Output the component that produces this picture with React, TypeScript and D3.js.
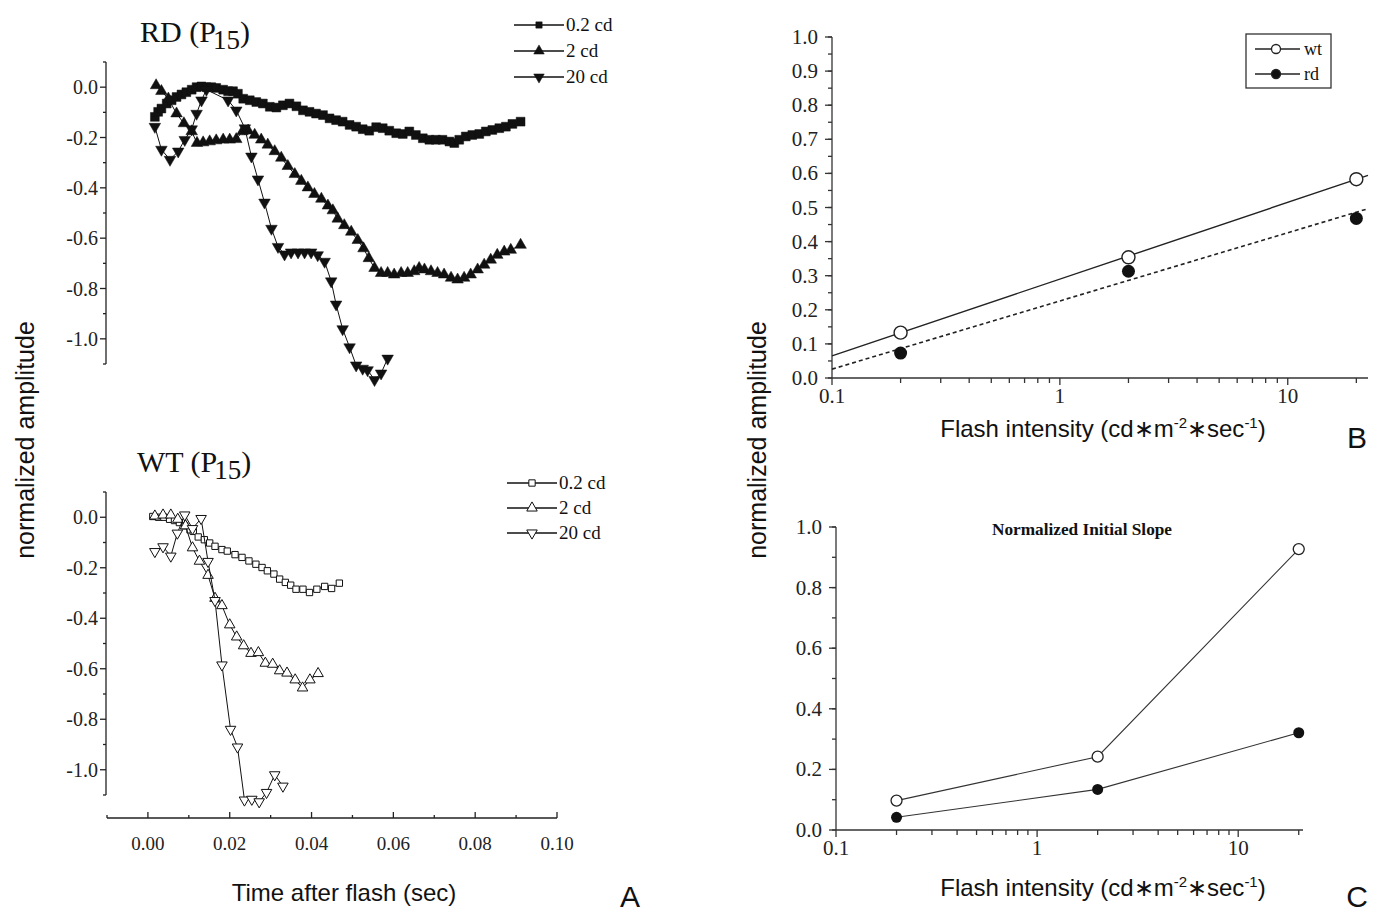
import React from "react";
import * as d3 from "d3";

// Panel A: [time after flash (sec), normalized amplitude]
const rd02: [number, number][] = [
  [0.0017, -0.118], [0.0025, -0.098], [0.0033, -0.085], [0.0046, -0.065], [0.0058, -0.052],
  [0.007, -0.039], [0.0082, -0.029], [0.0094, -0.02], [0.0107, -0.01], [0.0119, 0.0],
  [0.0131, 0.003], [0.0143, 0.0], [0.0155, 0.0], [0.0167, -0.003], [0.0184, -0.01],
  [0.0196, -0.016], [0.0208, -0.016], [0.022, -0.026], [0.0233, -0.046], [0.0249, -0.052],
  [0.0265, -0.059], [0.0281, -0.065], [0.0298, -0.078], [0.0314, -0.081], [0.033, -0.072],
  [0.0346, -0.065], [0.0363, -0.076], [0.0379, -0.092], [0.0395, -0.098], [0.0411, -0.105],
  [0.0428, -0.111], [0.0444, -0.124], [0.046, -0.131], [0.0476, -0.137], [0.0493, -0.15],
  [0.0509, -0.157], [0.0525, -0.167], [0.0541, -0.173], [0.0558, -0.159], [0.0574, -0.163],
  [0.059, -0.173], [0.0607, -0.183], [0.0623, -0.186], [0.0639, -0.176], [0.0655, -0.19],
  [0.0672, -0.203], [0.0688, -0.209], [0.0704, -0.209], [0.072, -0.209], [0.0737, -0.216],
  [0.0749, -0.222], [0.0761, -0.209], [0.0777, -0.196], [0.0793, -0.19], [0.081, -0.186],
  [0.0826, -0.176], [0.0842, -0.17], [0.0859, -0.163], [0.0875, -0.157], [0.0891, -0.146],
  [0.0911, -0.137],
];
const rd2: [number, number][] = [
  [0.002, 0.007], [0.0033, -0.016], [0.005, -0.046], [0.007, -0.105], [0.0088, -0.144],
  [0.0107, -0.176], [0.012, -0.222], [0.0135, -0.22], [0.0151, -0.216], [0.0167, -0.212],
  [0.0184, -0.209], [0.02, -0.209], [0.0216, -0.207], [0.0231, -0.176], [0.0245, -0.173],
  [0.0261, -0.19], [0.0277, -0.209], [0.0293, -0.229], [0.031, -0.255], [0.0326, -0.281],
  [0.0342, -0.314], [0.0359, -0.346], [0.0375, -0.373], [0.0391, -0.399], [0.0407, -0.425],
  [0.0424, -0.444], [0.044, -0.471], [0.0452, -0.49], [0.0464, -0.523], [0.048, -0.549],
  [0.0497, -0.575], [0.0513, -0.608], [0.0527, -0.641], [0.054, -0.68], [0.0554, -0.719],
  [0.057, -0.739], [0.0586, -0.739], [0.0602, -0.745], [0.0619, -0.739], [0.0635, -0.739],
  [0.0651, -0.732], [0.0663, -0.719], [0.0676, -0.725], [0.0692, -0.732], [0.0708, -0.739],
  [0.0724, -0.745], [0.0741, -0.758], [0.0757, -0.765], [0.0773, -0.758], [0.0789, -0.745],
  [0.0806, -0.725], [0.0822, -0.706], [0.0838, -0.686], [0.0854, -0.667], [0.0871, -0.654],
  [0.0887, -0.647], [0.0911, -0.627],
];
const rd20: [number, number][] = [
  [0.0017, -0.157], [0.0033, -0.248], [0.0054, -0.288], [0.0074, -0.255], [0.009, -0.209],
  [0.0107, -0.167], [0.0119, -0.105], [0.0131, -0.052], [0.0143, -0.01], [0.0196, -0.052],
  [0.0216, -0.092], [0.0237, -0.163], [0.0253, -0.275], [0.0269, -0.366], [0.0285, -0.458],
  [0.0302, -0.562], [0.0318, -0.634], [0.0334, -0.664], [0.035, -0.656], [0.0367, -0.656],
  [0.0383, -0.656], [0.0399, -0.656], [0.0415, -0.667], [0.0432, -0.693], [0.0448, -0.771],
  [0.046, -0.863], [0.0476, -0.961], [0.0493, -1.033], [0.0509, -1.105], [0.0525, -1.118],
  [0.0537, -1.124], [0.0554, -1.163], [0.057, -1.137], [0.0586, -1.078],
];
const wt02: [number, number][] = [
  [0.0012, 0.003], [0.0026, 0.0], [0.0039, 0.0], [0.0053, -0.008], [0.0065, -0.013],
  [0.0077, -0.021], [0.009, -0.034], [0.0103, -0.05], [0.0111, -0.056], [0.0123, -0.078],
  [0.0138, -0.089], [0.0151, -0.102], [0.0164, -0.115], [0.0181, -0.128], [0.0194, -0.134],
  [0.0213, -0.148], [0.023, -0.159], [0.0247, -0.173], [0.0264, -0.186], [0.0279, -0.199],
  [0.0292, -0.212], [0.0308, -0.225], [0.0322, -0.245], [0.0336, -0.258], [0.0349, -0.269],
  [0.0362, -0.285], [0.0379, -0.285], [0.0395, -0.298], [0.0413, -0.285], [0.0432, -0.274],
  [0.0449, -0.282], [0.0468, -0.261],
];
const wt2: [number, number][] = [
  [0.0017, 0.005], [0.0037, 0.009], [0.0056, 0.009], [0.0073, -0.008], [0.0092, -0.034],
  [0.0109, -0.121], [0.0126, -0.174], [0.0147, -0.23], [0.0164, -0.321], [0.0181, -0.35],
  [0.02, -0.426], [0.0217, -0.474], [0.0234, -0.509], [0.0252, -0.539], [0.027, -0.536],
  [0.0287, -0.578], [0.0305, -0.582], [0.0322, -0.608], [0.034, -0.617], [0.036, -0.644],
  [0.0378, -0.676], [0.0396, -0.644], [0.0416, -0.619],
];
const wt20: [number, number][] = [
  [0.0017, -0.136], [0.0037, -0.117], [0.0056, -0.154], [0.0072, -0.063], [0.009, 0.009],
  [0.0109, -0.045], [0.013, -0.005], [0.0147, -0.175], [0.0164, -0.33], [0.0181, -0.585],
  [0.0202, -0.84], [0.0219, -0.91], [0.0236, -1.12], [0.0254, -1.117], [0.0272, -1.127],
  [0.029, -1.09], [0.031, -1.02], [0.033, -1.065],
];
const cdLabels = ["0.2 cd", "2 cd", "20 cd"];
const timeTicks = [0, 0.02, 0.04, 0.06, 0.08, 0.1];
const timeLabels = ["0.00", "0.02", "0.04", "0.06", "0.08", "0.10"];
const ampTicksA = [0, -0.2, -0.4, -0.6, -0.8, -1.0];

// Panel B: amplitude vs flash intensity, with log-linear fits
const intensity = [0.2, 2, 20];
const ampWt = [0.133, 0.354, 0.583];
const ampRd = [0.073, 0.313, 0.468];
const fitWt = [0.29, 0.225]; // intercept, slope per decade
const fitRd = [0.226, 0.2];
const ampTicksB = [0, 0.1, 0.2, 0.3, 0.4, 0.5, 0.6, 0.7, 0.8, 0.9, 1.0];
const logTicks = [0.1, 1, 10];
const logLabels = ["0.1", "1", "10"];
const groups = ["wt", "rd"];

// Panel C: normalized initial slope
const slopeWt = [0.097, 0.242, 0.927];
const slopeRd = [0.042, 0.134, 0.321];
const slopeTicks = [0, 0.2, 0.4, 0.6, 0.8, 1.0];

const SERIF = "'Liberation Serif', 'Times New Roman', serif";
const SANS = "'Liberation Sans', Arial, sans-serif";

const xA = d3.scaleLinear().domain([-0.01, 0.1]).range([107, 557]);
const yRD = d3.scaleLinear().domain([-1.1, 0.1]).range([364, 62]);
const yWT = d3.scaleLinear().domain([-1.1, 0.1]).range([795, 492]);
const xB = d3.scaleLog().domain([0.1, 22.5]).range([832, 1368]);
const yB = d3.scaleLinear().domain([0, 1]).range([378, 37]);
const xC = d3.scaleLog().domain([0.1, 21]).range([836, 1303]);
const yC = d3.scaleLinear().domain([0, 1]).range([830, 527]);

const symSquare = (s: number) => d3.symbol().type(d3.symbolSquare).size(s)()!;
const symTri = (s: number) => d3.symbol().type(d3.symbolTriangle).size(s)()!;

function Mark({ x, y, kind, filled, big }: { x: number; y: number; kind: number; filled: boolean; big: boolean }) {
  const fill = filled ? "#111" : "#fff";
  const sw = filled ? 0.5 : 1;
  if (kind === 0) {
    return <path d={symSquare(big ? 78 : 40)} transform={`translate(${x},${y})`} fill={fill} stroke="#111" strokeWidth={sw} />;
  }
  const rot = kind === 2 ? " rotate(180)" : "";
  return <path d={symTri(big ? 58 : 48)} transform={`translate(${x},${y})${rot}`} fill={fill} stroke="#111" strokeWidth={sw} />;
}

function YAxisA({ y, x0 }: { y: d3.ScaleLinear<number, number>; x0: number }) {
  const all = y.ticks(12);
  const [lo, hi] = y.range();
  return (
    <g>
      <line x1={x0} x2={x0} y1={lo} y2={hi} stroke="#222" strokeWidth={1.3} />
      {all.map((v, i) => {
        const major = Math.abs(Math.round(v * 10)) % 2 === 0;
        return <line key={i} x1={x0 - (major ? 6 : 3)} x2={x0} y1={y(v)} y2={y(v)} stroke="#222" strokeWidth={1.3} />;
      })}
      {ampTicksA.map((v, i) => (
        <text key={i} x={x0 - 8} y={y(v) + 7} textAnchor="end" fontFamily={SERIF} fontSize={20} fill="#222">
          {v.toFixed(1)}
        </text>
      ))}
    </g>
  );
}

function Series({ data, y, kind, filled }: { data: [number, number][]; y: d3.ScaleLinear<number, number>; kind: number; filled: boolean }) {
  const line = d3.line<[number, number]>().x((d) => xA(d[0])).y((d) => y(d[1]));
  return (
    <g>
      <path d={line(data)!} fill="none" stroke="#111" strokeWidth={1} />
      {data.map((d, i) => (
        <Mark key={i} x={xA(d[0])} y={y(d[1])} kind={kind} filled={filled} big={filled} />
      ))}
    </g>
  );
}

function LegendA({ x, y, dy, filled }: { x: number; y: number; dy: number; filled: boolean }) {
  return (
    <g>
      {cdLabels.map((t, i) => (
        <g key={i}>
          <line x1={x} x2={x + 50} y1={y + i * dy} y2={y + i * dy} stroke="#111" strokeWidth={1.3} />
          <Mark x={x + 25} y={y + i * dy} kind={i} filled={filled} big={false} />
          <text x={x + 52} y={y + i * dy + 6} fontFamily={SERIF} fontSize={19} fill="#111">{t}</text>
        </g>
      ))}
    </g>
  );
}

function Title({ x, y, main }: { x: number; y: number; main: string }) {
  return (
    <text x={x} y={y} fontFamily={SERIF} fontSize={30} fill="#111">
      {main} (P<tspan dy={7} dx={-3} fontSize={27}>15</tspan><tspan dy={-7}>)</tspan>
    </text>
  );
}

function LogAxis({ x, y, yTicks, yMinor, yLabels }: {
  x: d3.ScaleLogarithmic<number, number>; y: d3.ScaleLinear<number, number>;
  yTicks: number[]; yMinor: number[]; yLabels: string[];
}) {
  const [x0, x1] = x.range();
  const y0 = y.range()[0];
  const y1 = y.range()[1];
  const xt = x.ticks().filter((v) => v <= x.domain()[1]);
  return (
    <g stroke="#333" strokeWidth={1.3}>
      <line x1={x0} x2={x1} y1={y0} y2={y0} />
      <line x1={x0} x2={x0} y1={y0} y2={y1} />
      {xt.map((v, i) => {
        const major = logTicks.some((m) => Math.abs(m - v) < 1e-9);
        return <line key={"x" + i} x1={x(v)} x2={x(v)} y1={y0} y2={y0 + (major ? 7 : 5)} />;
      })}
      {yMinor.map((v, i) => (
        <line key={"m" + i} x1={x0 - 4} x2={x0} y1={y(v)} y2={y(v)} />
      ))}
      {yTicks.map((v, i) => (
        <line key={"y" + i} x1={x0 - 7} x2={x0} y1={y(v)} y2={y(v)} />
      ))}
      <g stroke="none" fill="#222" fontFamily={SERIF} fontSize={21}>
        {logTicks.map((v, i) => (
          <text key={"l" + i} x={x(v)} y={y0 + 25} textAnchor="middle">{logLabels[i]}</text>
        ))}
        {yTicks.map((v, i) => (
          <text key={"t" + i} x={x0 - 14} y={y(v) + 7} textAnchor="end">{yLabels[i]}</text>
        ))}
      </g>
    </g>
  );
}

function FlashLabel({ cx, y }: { cx: number; y: number }) {
  return (
    <text x={cx} y={y} textAnchor="middle" fontFamily={SANS} fontSize={24} fill="#111">
      Flash intensity (cd∗m<tspan dy={-9} fontSize={15}>-2</tspan>
      <tspan dy={9}>∗sec</tspan><tspan dy={-9} fontSize={15}>-1</tspan><tspan dy={9}>)</tspan>
    </text>
  );
}

export default function App() {
  const fitLine = (f: number[]) =>
    d3.line<number>().x((v) => xB(v)).y((v) => yB(f[0] + f[1] * Math.log10(v)))(xB.domain())!;
  const lineC = d3.line<[number, number]>().x((d) => xC(d[0])).y((d) => yC(d[1]));
  const aMinorA = xA.ticks(11);
  return (
    <svg width={1382} height={913} style={{ position: "absolute", left: 0, top: 0, background: "#fff" }}>
      <rect width={1382} height={913} fill="#fff" />

      {/* Panel A - RD */}
      <Title x={140} y={42} main="RD" />
      <YAxisA y={yRD} x0={106} />
      <Series data={rd02} y={yRD} kind={0} filled={true} />
      <Series data={rd2} y={yRD} kind={1} filled={true} />
      <Series data={rd20} y={yRD} kind={2} filled={true} />
      <LegendA x={514} y={25} dy={26} filled={true} />

      {/* Panel A - WT */}
      <Title x={137} y={472} main="WT" />
      <YAxisA y={yWT} x0={106} />
      <Series data={wt02} y={yWT} kind={0} filled={false} />
      <Series data={wt2} y={yWT} kind={1} filled={false} />
      <Series data={wt20} y={yWT} kind={2} filled={false} />
      <LegendA x={507} y={483} dy={25} filled={false} />

      {/* time axis */}
      <g stroke="#222" strokeWidth={1.3}>
        <line x1={xA(-0.01)} x2={xA(0.1)} y1={818} y2={818} />
        {aMinorA.map((v, i) => {
          const major = timeTicks.some((m) => Math.abs(m - v) < 1e-9);
          return <line key={i} x1={xA(v)} x2={xA(v)} y1={818} y2={818 - (major ? 6 : 3)} />;
        })}
      </g>
      {timeTicks.map((v, i) => (
        <text key={i} x={xA(v)} y={850} textAnchor="middle" fontFamily={SERIF} fontSize={19} fill="#222">
          {timeLabels[i]}
        </text>
      ))}
      <text x={344} y={901} textAnchor="middle" fontFamily={SANS} fontSize={24} fill="#111">Time after flash (sec)</text>
      <text x={630} y={907} textAnchor="middle" fontFamily={SANS} fontSize={30} fill="#111">A</text>
      <text transform="translate(25,440) rotate(-90)" textAnchor="middle" dominantBaseline="central" fontFamily={SANS} fontSize={25} fill="#111">
        normalized amplitude
      </text>

      {/* Panel B */}
      <LogAxis x={xB} y={yB} yTicks={ampTicksB} yMinor={yB.ticks(20)} yLabels={ampTicksB.map((v) => v.toFixed(1))} />
      <path d={fitLine(fitWt)} fill="none" stroke="#222" strokeWidth={1.4} />
      <path d={fitLine(fitRd)} fill="none" stroke="#222" strokeWidth={1.6} strokeDasharray="4 3" />
      {intensity.map((v, i) => (
        <g key={i}>
          <circle cx={xB(v)} cy={yB(ampWt[i])} r={6.5} fill="#fff" stroke="#222" strokeWidth={1.4} />
          <circle cx={xB(v)} cy={yB(ampRd[i])} r={6.5} fill="#111" />
        </g>
      ))}
      <rect x={1246} y={34} width={85} height={54} fill="#fff" stroke="#333" strokeWidth={1.3} />
      {groups.map((g, i) => (
        <g key={g}>
          <line x1={1255} x2={1300} y1={49 + i * 25} y2={49 + i * 25} stroke="#222" strokeWidth={1.3} />
          <circle cx={1276} cy={49 + i * 25} r={4.5} fill={i === 0 ? "#fff" : "#111"} stroke="#222" strokeWidth={1.3} />
          <text x={1304} y={55 + i * 25} fontFamily={SERIF} fontSize={18} fill="#111">{g}</text>
        </g>
      ))}
      <FlashLabel cx={1103} y={437} />
      <text x={1357} y={448} textAnchor="middle" fontFamily={SANS} fontSize={30} fill="#111">B</text>
      <text transform="translate(757,440) rotate(-90)" textAnchor="middle" dominantBaseline="central" fontFamily={SANS} fontSize={25} fill="#111">
        normalized amplitude
      </text>

      {/* Panel C */}
      <LogAxis x={xC} y={yC} yTicks={slopeTicks} yMinor={yC.ticks(10)} yLabels={slopeTicks.map((v) => v.toFixed(1))} />
      <text x={1082} y={535} textAnchor="middle" fontFamily={SERIF} fontWeight="bold" fontSize={17} textLength={180} lengthAdjust="spacingAndGlyphs" fill="#111">
        Normalized Initial Slope
      </text>
      <path d={lineC(intensity.map((v, i) => [v, slopeWt[i]]))!} fill="none" stroke="#333" strokeWidth={1.1} />
      <path d={lineC(intensity.map((v, i) => [v, slopeRd[i]]))!} fill="none" stroke="#333" strokeWidth={1.1} />
      {intensity.map((v, i) => (
        <g key={i}>
          <circle cx={xC(v)} cy={yC(slopeWt[i])} r={5.5} fill="#fff" stroke="#222" strokeWidth={1.3} />
          <circle cx={xC(v)} cy={yC(slopeRd[i])} r={5.5} fill="#111" />
        </g>
      ))}
      <FlashLabel cx={1103} y={896} />
      <text x={1357} y={907} textAnchor="middle" fontFamily={SANS} fontSize={30} fill="#111">C</text>
    </svg>
  );
}
